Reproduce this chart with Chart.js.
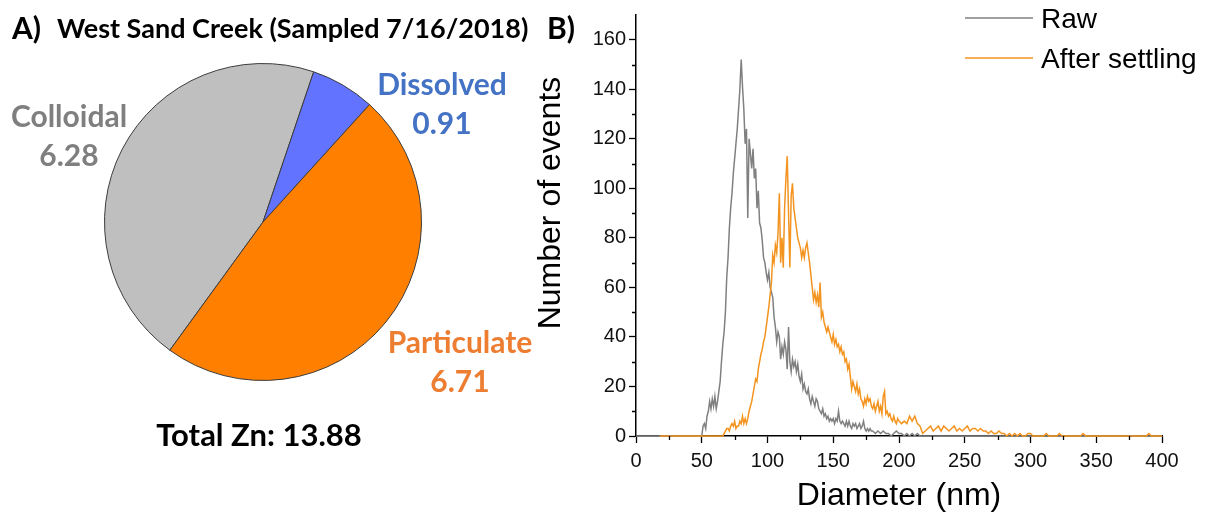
<!DOCTYPE html>
<html>
<head>
<meta charset="utf-8">
<title>West Sand Creek Zn fractions and particle size distribution</title>
<script src="https://cdn.jsdelivr.net/npm/chart.js@4.4.1/dist/chart.umd.min.js"></script>
<style>
  html, body { margin: 0; padding: 0; background: #ffffff; }
  #page { position: relative; width: 1208px; height: 515px; overflow: hidden; background: #ffffff; }
  #pieBox { position: absolute; left: 104px; top: 63px; width: 318px; height: 318px; }
  #distBox { position: absolute; left: 530px; top: 0px; width: 678px; height: 515px; }
  #overlay { position: absolute; left: 0; top: 0; pointer-events: none; }
  .panelText { font-family: Lato, "Open Sans", sans-serif; font-weight: 700; }
  .axisText { font-family: "Liberation Sans", Arial, sans-serif; }
</style>
</head>
<body>
<div id="page">
  <div id="pieBox"><canvas id="pie" width="318" height="318"></canvas></div>
  <div id="distBox"><canvas id="dist" width="678" height="515"></canvas></div>
  <svg id="overlay" width="1208" height="515" xmlns="http://www.w3.org/2000/svg"></svg>
</div>
<script>
// ---- Panel A: Zn fractions (µg/L) ----
const fractionNames  = ['Colloidal', 'Dissolved', 'Particulate'];
const fractionValues = [6.28, 0.91, 6.71];
const totalZn = 13.88;
const panelATitle = 'West Sand Creek (Sampled 7/16/2018)';

// ---- Panel B: size distributions (number of events per diameter bin) ----
const rawDiameter = [
  0, 49,
  50, 51, 52, 53, 54, 55, 56, 57, 58, 59,
  60, 61, 62, 63, 64, 65, 66, 67, 68, 69,
  70, 71, 72, 73, 74, 75, 76, 77, 78, 79,
  80, 81, 82, 83, 84, 85, 86, 87, 88, 89,
  90, 91, 92, 93, 94, 95, 96, 97, 98, 99,
  100, 101, 102, 103, 104, 105, 106, 107, 108, 109,
  110, 111, 112, 113, 114, 115, 116, 117, 118, 119,
  120, 121, 122, 123, 124, 125, 126, 127, 128, 129,
  130, 131, 132, 133, 134, 135, 136, 137, 138, 139,
  140, 141, 142, 143, 144, 145, 146, 147, 148, 149,
  150, 151, 152, 153, 154, 155, 156, 157, 158, 159,
  160, 161, 162, 163, 164, 165, 166, 167, 168, 169,
  170, 171, 172, 173, 174, 175, 176, 177, 178, 179,
  180, 182, 184, 186, 188, 190, 192, 194, 196, 198,
  200, 202, 204, 206, 208, 210, 212, 214, 216,
  400
];
const rawCount = [
  0, 0,
  0, 4, 5, 3, 8, 10, 14, 11, 15, 12,
  16, 11, 14, 18, 22, 30, 37, 42, 50, 64,
  72, 84, 92, 98, 106, 112, 118, 124, 132, 140,
  152, 141, 132, 118, 124, 88, 120, 114, 108, 116,
  104, 108, 92, 99, 86, 84, 79, 72, 70, 66,
  63, 66, 60, 58, 56, 48, 44, 38, 42, 40,
  31, 36, 33, 38, 35, 27, 44, 30, 26, 31,
  28, 30, 26, 29, 24, 22, 25, 19, 21, 18,
  17, 19, 15, 13, 16, 14, 12, 15, 14, 11,
  10, 9, 11, 8, 9, 7, 8, 6, 7, 6,
  7, 5, 7, 6, 10, 6, 5, 6, 5, 4,
  6, 4, 6, 4, 3, 5, 4, 5, 3, 4,
  5, 3, 4, 6, 3, 2, 3, 2, 3, 2,
  2, 1, 2, 1, 2, 1, 1, 0, 1, 2,
  1, 1, 0, 1, 0, 1, 0, 1, 0,
  0
];

const settledDiameter = [
  18, 66,
  67, 68, 69, 70, 71, 72, 73, 74, 75, 76, 77, 78, 79,
  80, 81, 82, 83, 84, 85, 86, 87, 88, 89,
  90, 91, 92, 93, 94, 95, 96, 97, 98, 99,
  100, 101, 102, 103, 104, 105, 106, 107, 108, 109,
  110, 111, 112, 113, 114, 115, 116, 117, 118, 119,
  120, 121, 122, 123, 124, 125, 126, 127, 128, 129,
  130, 131, 132, 133, 134, 135, 136, 137, 138, 139,
  140, 141, 142, 143, 144, 145, 146, 147, 148, 149,
  150, 151, 152, 153, 154, 155, 156, 157, 158, 159,
  160, 161, 162, 163, 164, 165, 166, 167, 168, 169,
  170, 171, 172, 173, 174, 175, 176, 177, 178, 179,
  180, 181, 182, 183, 184, 185, 186, 187, 188, 189,
  190, 191, 192, 193, 194, 195, 196, 197, 198, 199,
  200, 202, 204, 206, 208, 210, 212, 214, 216, 218,
  220, 222, 224, 226, 228, 230, 232, 234, 236, 238,
  240, 242, 244, 246, 248, 250, 252, 254, 256, 258,
  260, 262, 264, 266, 268, 270, 272, 274, 276, 278,
  280, 282, 284, 286, 288, 290, 292, 294, 296, 298,
  300, 302, 310, 312, 314, 320, 322, 324, 338, 340,
  342, 388, 390, 392, 400
];
const settledCount = [
  0, 0,
  1, 2, 3, 3, 2, 4, 5, 4, 6, 3, 4, 4, 6,
  5, 8, 5, 7, 5, 7, 10, 12, 14, 17,
  20, 23, 22, 27, 30, 33, 35, 38, 40, 44,
  48, 52, 57, 62, 73, 70, 77, 74, 82, 98,
  70, 80, 68, 92, 104, 113, 90, 68, 97, 102,
  92, 88, 84, 80, 78, 76, 72, 75, 72, 76,
  78, 74, 70, 65, 60, 55, 58, 54, 57, 52,
  62, 48, 50, 46, 44, 42, 44, 42, 40, 38,
  41, 37, 39, 36, 37, 34, 36, 33, 34, 30,
  31, 27, 29, 24, 19, 22, 20, 18, 21, 17,
  19, 15, 14, 12, 15, 13, 16, 14, 15, 12,
  11, 13, 10, 12, 14, 10, 12, 9, 16, 18,
  9, 10, 8, 9, 7, 6, 8, 6, 5, 7,
  6, 5, 6, 5, 8, 6, 8, 5, 4, 1,
  2, 3, 4, 2, 3, 4, 2, 4, 3, 2,
  3, 4, 2, 3, 2, 3, 4, 2, 3, 3,
  2, 3, 2, 2, 1, 2, 1, 1, 2, 1,
  1, 0, 1, 0, 1, 0, 1, 0, 0, 1,
  1, 0, 0, 1, 0, 0, 1, 0, 0, 1,
  0, 0, 1, 0, 0
];

const seriesNames = ['Raw', 'After settling'];
const xTickValues = [0, 50, 100, 150, 200, 250, 300, 350, 400];
const xMinorTickValues = [25, 75, 125, 175, 225, 275, 325, 375];
const yTickValues = [0, 20, 40, 60, 80, 100, 120, 140, 160];
const yMinorTickValues = [10, 30, 50, 70, 90, 110, 130, 150];

// ---- styling ----
const sliceColors = ['#bfbfbf', '#6173ff', '#ff8000'];
const sliceTextColors = ['#7f7f7f', '#4472c4', '#ed7d31'];
const rawColor = '#808080';
const settledColor = '#f39420';

function toPoints(xs, ys) {
  return xs.map((x, i) => ({ x: x, y: ys[i] }));
}

// Pie of Zn fractions
new Chart(document.getElementById('pie'), {
  type: 'pie',
  data: {
    labels: fractionNames,
    datasets: [{
      data: fractionValues,
      backgroundColor: sliceColors,
      borderColor: '#3c3c3c',
      borderWidth: 1
    }]
  },
  options: {
    responsive: false,
    animation: false,
    rotation: -144,
    layout: { padding: 0 },
    plugins: { legend: { display: false }, tooltip: { enabled: false } }
  }
});

// Short unlabelled ticks between the labelled ones
const minorTicks = {
  id: 'minorTicks',
  afterDraw(chart) {
    const { ctx } = chart;
    const xs = chart.scales.x, ys = chart.scales.y;
    ctx.save();
    ctx.strokeStyle = '#000';
    ctx.lineWidth = 1.3;
    ctx.beginPath();
    xMinorTickValues.forEach(v => {
      const px = Math.round(xs.getPixelForValue(v)) + 0.5;
      ctx.moveTo(px, xs.top);
      ctx.lineTo(px, xs.top + 4);
    });
    yMinorTickValues.forEach(v => {
      const py = Math.round(ys.getPixelForValue(v)) + 0.5;
      ctx.moveTo(ys.right - 4, py);
      ctx.lineTo(ys.right, py);
    });
    ctx.stroke();
    ctx.restore();
  }
};

const tickFont = { family: '"Liberation Sans", Arial, sans-serif', size: 20 };

new Chart(document.getElementById('dist'), {
  type: 'line',
  data: {
    datasets: [
      {
        label: seriesNames[1],
        data: toPoints(settledDiameter, settledCount),
        borderColor: settledColor,
        borderWidth: 1.5,
        pointRadius: 0,
        tension: 0,
        clip: false,
        order: 0
      },
      {
        label: seriesNames[0],
        data: toPoints(rawDiameter, rawCount),
        borderColor: rawColor,
        borderWidth: 1.5,
        pointRadius: 0,
        tension: 0,
        clip: false,
        order: 1
      }
    ]
  },
  options: {
    responsive: false,
    animation: false,
    layout: { padding: { top: 12, right: 46, bottom: 0, left: 0 } },
    plugins: { legend: { display: false }, tooltip: { enabled: false } },
    scales: {
      x: {
        type: 'linear',
        min: xTickValues[0],
        max: xTickValues[xTickValues.length - 1],
        afterBuildTicks: s => { s.ticks = xTickValues.map(v => ({ value: v })); },
        ticks: { font: tickFont, color: '#111', padding: 6, maxRotation: 0, autoSkip: false },
        grid: { drawOnChartArea: false, tickLength: 7, tickWidth: 1.3, tickColor: '#000' },
        border: { color: '#000', width: 1.5 },
        title: {
          display: true, text: 'Diameter (nm)', color: '#000',
          font: { family: '"Liberation Sans", Arial, sans-serif', size: 32 },
          padding: { top: 0, bottom: 0 }
        },
        afterFit: s => { s.height = 79; }
      },
      y: {
        type: 'linear',
        min: 0,
        max: 170,
        afterBuildTicks: s => { s.ticks = yTickValues.map(v => ({ value: v })); },
        ticks: { font: tickFont, color: '#111', padding: 3, autoSkip: false },
        grid: { drawOnChartArea: false, tickLength: 7, tickWidth: 1.3, tickColor: '#000' },
        border: { color: '#000', width: 1.5 },
        afterFit: s => { s.width = 106; }
      }
    }
  },
  plugins: [minorTicks]
});

// ---- text overlay: panel letters, titles, slice labels, legend ----
const svgNS = 'http://www.w3.org/2000/svg';
const svg = document.getElementById('overlay');
function addText(str, x, y, opts) {
  const t = document.createElementNS(svgNS, 'text');
  t.setAttribute('x', x);
  t.setAttribute('y', y);
  t.setAttribute('class', opts.cls || 'panelText');
  t.setAttribute('font-size', opts.size);
  t.setAttribute('fill', opts.color || '#000');
  t.setAttribute('text-anchor', opts.anchor || 'start');
  if (opts.transform) t.setAttribute('transform', opts.transform);
  t.textContent = str;
  svg.appendChild(t);
  return t;
}

addText('A)', 12, 39, { size: 30 });
addText(panelATitle, 57, 38, { size: 27 });
addText('B)', 547, 39, { size: 30 });

// slice labels: name on the first line, value on the second
const sliceLabelAnchors = [[69, 127], [442, 95], [460, 353]];
fractionNames.forEach((name, i) => {
  const [cx, by] = sliceLabelAnchors[i];
  addText(name, cx, by, { size: 30, color: sliceTextColors[i], anchor: 'middle' });
  addText(fractionValues[i].toFixed(2), cx, by + 39, { size: 30, color: sliceTextColors[i], anchor: 'middle' });
});
addText('Total Zn: ' + totalZn.toFixed(2), 259, 446, { size: 31, anchor: 'middle' });

// y axis title (rotated)
addText('Number of events', 0, 0, {
  cls: 'axisText', size: 32, anchor: 'middle', transform: 'translate(560,203) rotate(-90)'
});

// legend
const legendRows = [
  { name: seriesNames[0], color: rawColor, y: 18 },
  { name: seriesNames[1], color: settledColor, y: 58 }
];
legendRows.forEach(row => {
  const l = document.createElementNS(svgNS, 'line');
  l.setAttribute('x1', 965); l.setAttribute('x2', 1033);
  l.setAttribute('y1', row.y); l.setAttribute('y2', row.y);
  l.setAttribute('stroke', row.color); l.setAttribute('stroke-width', 1.5);
  svg.appendChild(l);
  addText(row.name, 1041, row.y + 10, { cls: 'axisText', size: 28 });
});
</script>
</body>
</html>
